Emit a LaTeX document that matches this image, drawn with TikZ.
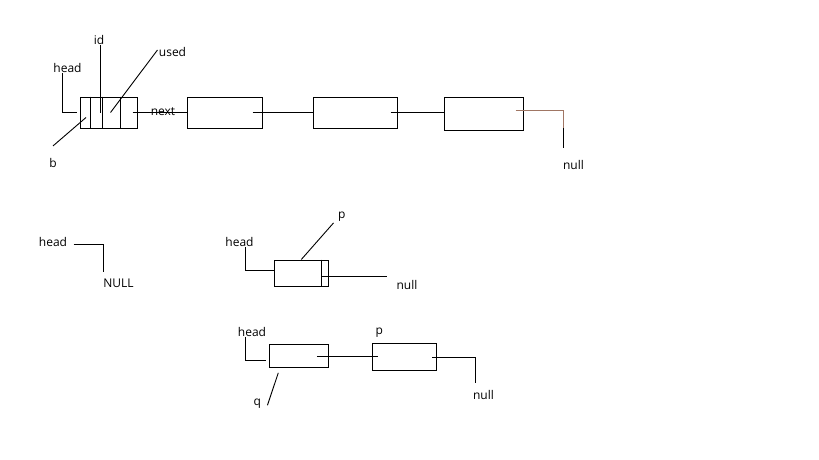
\documentclass[tikz,border=0pt]{standalone}
\usepackage{fontspec}
\setmainfont{Open Sans}
\usepackage{tikz}
\usetikzlibrary{calc}

\definecolor{wire}{RGB}{160,118,100}

\begin{document}
\begin{tikzpicture}[x=1pt,y=-1pt,line width=0.9pt,
    cell/.style={draw,inner sep=0pt,line width=1pt},
    lbl/.style={inner sep=0pt,font=\fontsize{12}{12}\selectfont}]
    \useasboundingbox (0,0) rectangle (819,460);

    \begin{scope}
      \node[cell,minimum width=57,minimum height=31] (n0) at (108.5,112.5) {};
      \foreach \dx in {11,23,41}
        \draw[line width=1pt] ([xshift=\dx]n0.north west) -- ([xshift=\dx]n0.south west);
      \node[cell,minimum width=75,minimum height=31] (n1) at (224.5,112.5) {};
      \node[cell,minimum width=84,minimum height=31] (n2) at (355,112.5) {};
      \node[cell,minimum width=79,minimum height=33] (n3) at (483.5,113.5) {};

      \node[lbl] (head1) at (67.5,68) {head};
      \node[lbl] (id) at (99,40) {id};
      \node[lbl] (used) at (172.5,52) {used};
      \node[lbl] (b) at (53,163) {b};
      \node[lbl] (null1) at (573.5,165) {null};

      \draw
        ([xshift=-5]head1.south) |- ([xshift=-3]n0.west);
      \draw
        ([xshift=-8]n0.center) -- ([xshift=-8]n0.center |- id.south);
      \draw
        ([xshift=-1,yshift=2]used.west) -- ([xshift=2]n0.center);
      \draw
        ([yshift=12]b.north) -- ([xshift=-22.5,yshift=-5]n0.center);

      \draw
        ([xshift=-5]n0.east) -- (n1.west);
      \node[lbl] (next) at (163,112) {next};
      \draw
        ([xshift=-10]n1.east) -- (n2.west);
      \draw
        ([xshift=-7]n2.east) -- (n2.east -| n3.west);

      \draw[wire,line width=0.7pt]
        ([xshift=-8,yshift=3.5]n3.east) -| ([xshift=1,yshift=37]null1.west) coordinate (bend);
      \draw
        (bend) -- ([xshift=1,yshift=17]null1.west);
    \end{scope}

    \begin{scope}
      \node[lbl] (head2) at (53,241.7) {head};
      \node[lbl] (NULL) at (118.5,283.5) {NULL};

      \draw
        ([xshift=6,yshift=-3]head2.east) -| ([xshift=0.5,yshift=7]NULL.north west);
    \end{scope}

    \begin{scope}
      \node[cell,minimum width=54,minimum height=26] (m1) at (301.3,273) {};
      \draw[line width=1pt]
        ([xshift=-7.6]m1.north east) -- ([xshift=-7.6]m1.south east);

      \node[lbl] (head3) at (239.5,241.7) {head};
      \node[lbl] (p1) at (341.7,216.7) {p};
      \node[lbl] (null2) at (407,285) {null};

      \draw
        ([xshift=5.5]head3.south) |- ([yshift=2.3]m1.west);
      \draw
        ([xshift=-4,yshift=-1]p1.south west) -- (m1.north);
      \draw
        ([xshift=-6.6,yshift=-3]m1.east) -- ([xshift=-9.5,yshift=9]null2.west);
    \end{scope}

    \begin{scope}
      \node[cell,minimum width=59,minimum height=23.4] (q1) at (298.8,356) {};
      \node[cell,minimum width=63.7,minimum height=26.7] (q2) at (404.2,356.7) {};

      \node[lbl] (head4) at (252,331.7) {head};
      \node[lbl] (p2) at (379.3,332.3) {p};
      \node[lbl] (q) at (257.3,403.3) {q};
      \node[lbl] (null3) at (483.5,395) {null};

      \draw
        ([xshift=-6.3]head4.south) |- ([xshift=-2.6,yshift=-4]q1.west);
      \draw
        ([xshift=-12]q1.east) -- ([xshift=6]q1.east -| q2.west);
      \draw
        ([xshift=-4.3,yshift=-1]q2.east) -| ([xshift=3,yshift=7]null3.north west);
      \draw
        ([xshift=-20.5,yshift=-4.6]q1.south) -- ([xshift=6,yshift=-2]q.east);
    \end{scope}
  \end{tikzpicture}
\end{document}
